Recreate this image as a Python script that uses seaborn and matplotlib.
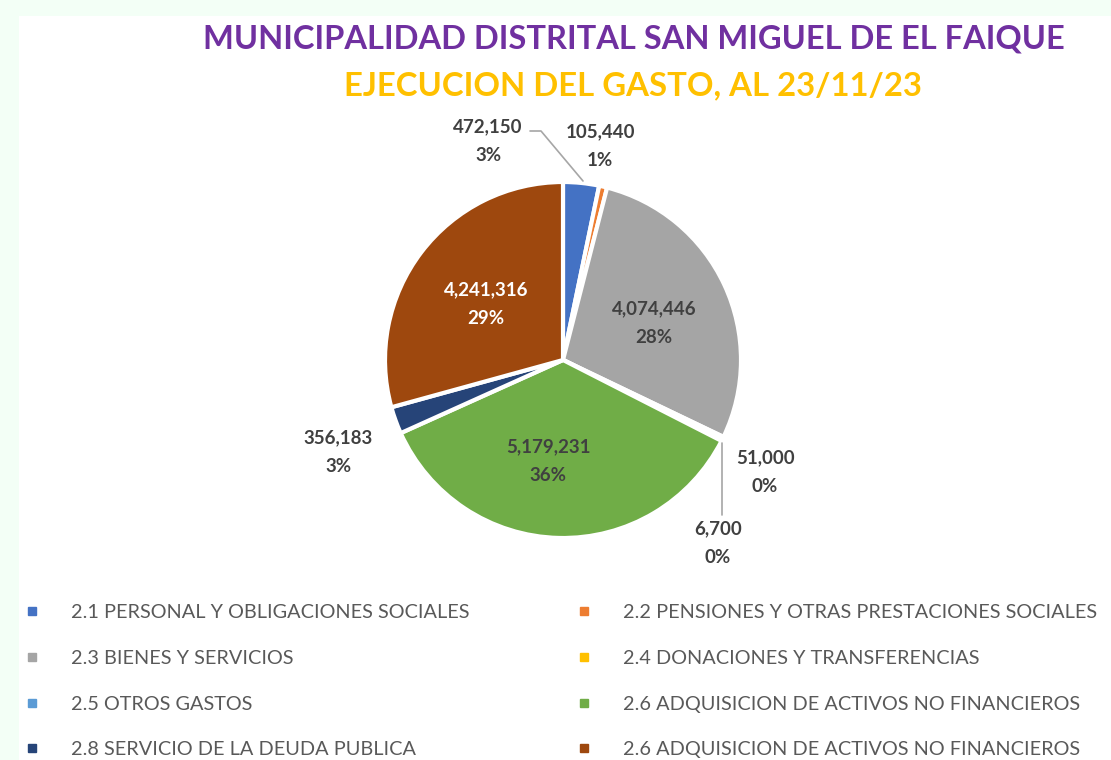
import matplotlib
matplotlib.use("Agg")
import matplotlib.pyplot as plt
import seaborn as sns
from matplotlib.lines import Line2D
from matplotlib.patches import Rectangle

# ---------------- data ----------------
categories = [
    "2.1 PERSONAL Y OBLIGACIONES SOCIALES",
    "2.2 PENSIONES Y OTRAS PRESTACIONES SOCIALES",
    "2.3 BIENES Y SERVICIOS",
    "2.4 DONACIONES Y TRANSFERENCIAS",
    "2.5 OTROS GASTOS",
    "2.6 ADQUISICION DE ACTIVOS NO FINANCIEROS",
    "2.8 SERVICIO DE LA DEUDA PUBLICA",
    "2.6 ADQUISICION DE ACTIVOS NO FINANCIEROS",
]
values = [472150, 105440, 4074446, 51000, 6700, 5179231, 356183, 4241316]
value_labels = ["472,150", "105,440", "4,074,446", "51,000", "6,700",
                "5,179,231", "356,183", "4,241,316"]
pct_labels = ["3%", "1%", "28%", "0%", "0%", "36%", "3%", "29%"]
colors = ["#4472C4", "#ED7D31", "#A5A5A5", "#FFC000", "#5B9BD5",
          "#70AD47", "#264478", "#9E480E"]

title = "MUNICIPALIDAD DISTRITAL SAN MIGUEL DE EL FAIQUE"
subtitle = "EJECUCION DEL GASTO, AL 23/11/23"

# ---------------- style ----------------
sns.set_theme(style="white")
plt.rcParams["font.family"] = ["Lato", "DejaVu Sans"]

W, H = 1111, 760
fig = plt.figure(figsize=(W / 100, H / 100), dpi=100)
fig.patch.set_facecolor("#F3FFF6")
fig.patches.append(Rectangle((19 / W, 0), 1 - 19 / W, 1 - 16 / H,
                             transform=fig.transFigure, facecolor="white",
                             edgecolor="none", zorder=-10))

# pie geometry (pixels)
cx, cy, R = 563, 360, 178
ax = fig.add_axes([0, 0, 1, 1])
ax.set_facecolor("none")
ax.set_zorder(1)
wedges, _ = ax.pie(values, colors=colors, startangle=90, counterclock=False,
                   radius=1, center=(0, 0),
                   wedgeprops=dict(edgecolor="white", linewidth=3))
ax.set_aspect("equal")
ax.set_xlim(-cx / R, (W - cx) / R)
ax.set_ylim(-(H - cy) / R, cy / R)
ax.axis("off")

def px(x, y):
    return ((x - cx) / R, (cy - y) / R)

# label positions in pixels (centre of two-line label)
label_pos = [(488, 141), (600, 146), (654, 323), (765, 472),
             (718, 543), (548, 461), (338, 452), (486, 304)]
label_colors = ["#404040"] * 7 + ["white"]
for i in range(len(values)):
    x, y = px(*label_pos[i])
    ax.text(x, y, f"{value_labels[i]}\n{pct_labels[i]}", ha="center",
            va="center", fontsize=13.5, fontweight="bold",
            color=label_colors[i], linespacing=1.85)

# leader lines
l1 = [px(530, 131), px(541, 131), px(583, 181)]
ax.plot([p[0] for p in l1], [p[1] for p in l1], color="#A6A6A6", lw=1.2)
l2 = [px(722, 443), px(722, 515)]
ax.plot([p[0] for p in l2], [p[1] for p in l2], color="#A6A6A6", lw=1.2)

# titles
fig.text(634 / W, 1 - 39 / H, title, ha="center", va="center",
         fontsize=23.5, fontweight="bold", color="#7030A0")
fig.text(633 / W, 1 - 86 / H, subtitle, ha="center", va="center",
         fontsize=23.7, fontweight="bold", color="#FFC000")

# legend, two columns
order_left = [0, 2, 4, 6]
order_right = [1, 3, 5, 7]
def handles(idx):
    return [Line2D([0], [0], marker="s", linestyle="none", markersize=6,
                   markerfacecolor=colors[i], markeredgecolor=colors[i])
            for i in idx]

for idx, xpos in ((order_left, 22), (order_right, 574)):
    leg = fig.legend(handles(idx), [categories[i] for i in idx],
                     loc="upper left", bbox_to_anchor=(xpos / W, 1 - 604 / H),
                     frameon=False, fontsize=14.3, handlelength=1.0,
                     handletextpad=1.45, labelspacing=1.45,
                     borderaxespad=0, borderpad=0, labelcolor="#595959")

fig.savefig("out.png", dpi=100, facecolor=fig.get_facecolor())
